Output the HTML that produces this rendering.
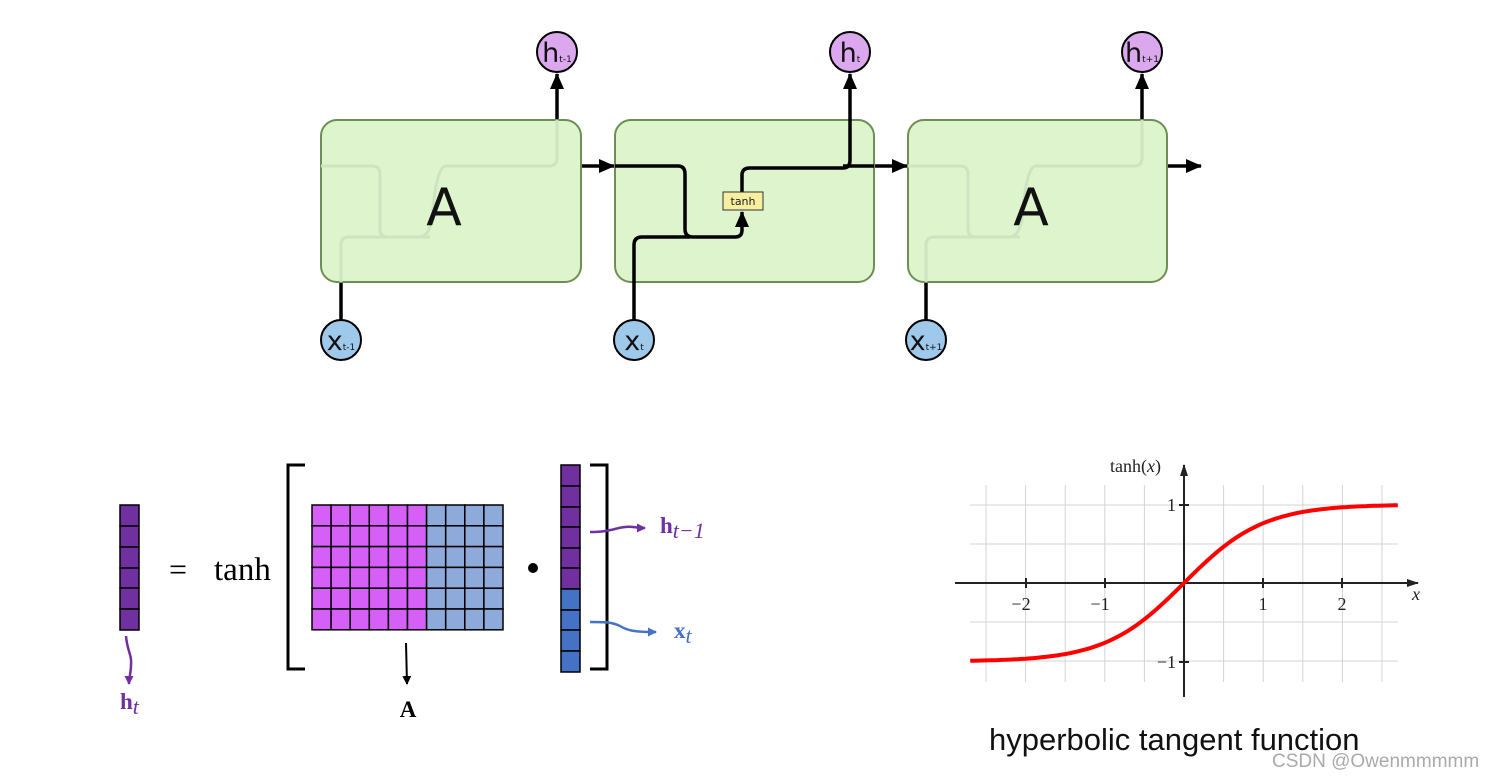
<!DOCTYPE html>
<html><head><meta charset="utf-8"><style>
html,body{margin:0;padding:0;background:#fff;width:1500px;height:776px;overflow:hidden}
svg{display:block}
</style></head><body>
<svg width="1500" height="776" viewBox="0 0 1500 776" xmlns="http://www.w3.org/2000/svg">
<defs>
<marker id="ah" markerWidth="16" markerHeight="16" refX="15" refY="8" orient="auto" markerUnits="userSpaceOnUse"><path d="M0,1 L16,8 L0,15 z" fill="#000"/></marker>
<marker id="ap" markerWidth="9" markerHeight="9" refX="8" refY="4.5" orient="auto" markerUnits="userSpaceOnUse"><path d="M0,0 L9,4.5 L0,9 z" fill="#7030a0"/></marker>
<marker id="ab" markerWidth="9" markerHeight="9" refX="8" refY="4.5" orient="auto" markerUnits="userSpaceOnUse"><path d="M0,0 L9,4.5 L0,9 z" fill="#4472c4"/></marker>
<marker id="ak" markerWidth="9" markerHeight="9" refX="8" refY="4.5" orient="auto" markerUnits="userSpaceOnUse"><path d="M0,0 L9,4.5 L0,9 z" fill="#000"/></marker>
<marker id="ag" markerWidth="12" markerHeight="10" refX="11" refY="5" orient="auto" markerUnits="userSpaceOnUse"><path d="M0,1 L12,5 L0,9 z" fill="#222"/></marker>
</defs>

<g stroke="#000" stroke-width="3.5" fill="none">
<line x1="341" y1="282" x2="341" y2="320"/>
<line x1="557" y1="120" x2="557" y2="74" marker-end="url(#ah)"/>
<line x1="581" y1="166" x2="614" y2="166" marker-end="url(#ah)"/>
<line x1="874" y1="166" x2="907" y2="166" marker-end="url(#ah)"/>
<line x1="1167" y1="166" x2="1201" y2="166" marker-end="url(#ah)"/>
<line x1="926" y1="282" x2="926" y2="320"/>
<line x1="1142" y1="120" x2="1142" y2="74" marker-end="url(#ah)"/>
</g>
<rect x="321" y="120" width="260" height="162" rx="16" fill="#ddf4cd" stroke="#6d8f55" stroke-width="2"/>
<rect x="615" y="120" width="259" height="162" rx="16" fill="#ddf4cd" stroke="#6d8f55" stroke-width="2"/>
<rect x="908" y="120" width="259" height="162" rx="16" fill="#ddf4cd" stroke="#6d8f55" stroke-width="2"/>
<g stroke="#cfe3c1" stroke-width="3" fill="none">
<path d="M321,166 H372 Q380,166 380,174 V229 Q380,237 388,237 H430"/>
<path d="M341,282 V245 Q341,237 349,237 H420 Q428,237 432,220 Q436,166 446,166 H549 Q557,166 557,158 V120"/>
<path d="M908,166 H960 Q968,166 968,174 V229 Q968,237 976,237 H1020"/>
<path d="M926,282 V245 Q926,237 934,237 H1010 Q1018,237 1022,220 Q1026,166 1036,166 H1134 Q1142,166 1142,158 V120"/>
</g>
<text x="444" y="225" font-family="DejaVu Sans, sans-serif" font-size="52" text-anchor="middle" fill="#111">A</text>
<text x="1031" y="225" font-family="DejaVu Sans, sans-serif" font-size="52" text-anchor="middle" fill="#111">A</text>
<g stroke="#000" stroke-width="3.5" fill="none">
<path d="M615,166 H678 Q685,166 685,174 V229 Q685,237 693,237 H735 Q742,237 742,230 V212" marker-end="url(#ah)"/>
<path d="M634,320 V245 Q634,237 642,237 H690"/>
<path d="M742,192 V175 Q742,168 750,168 H843 Q850,168 850,160 V74" marker-end="url(#ah)"/>
<line x1="843" y1="166" x2="874" y2="166"/>
</g>
<rect x="723" y="192" width="40" height="18" fill="#f7eea0" stroke="#333" stroke-width="1"/>
<text x="743" y="205" font-family="DejaVu Sans, sans-serif" font-size="11" text-anchor="middle" fill="#222">tanh</text>
<g stroke="#000" stroke-width="2">
<circle cx="557" cy="52" r="20" fill="#dba8ee"/>
<circle cx="850" cy="52" r="20" fill="#dba8ee"/>
<circle cx="1142" cy="52" r="20" fill="#dba8ee"/>
<circle cx="341" cy="340" r="20" fill="#9fc9ea"/>
<circle cx="634" cy="340" r="20" fill="#9fc9ea"/>
<circle cx="926" cy="340" r="20" fill="#9fc9ea"/>
</g>
<g font-family="DejaVu Sans, sans-serif" fill="#111" text-anchor="middle">
<text x="557" y="62" font-size="27">h<tspan font-size="9">t-1</tspan></text>
<text x="850" y="62" font-size="27">h<tspan font-size="9">t</tspan></text>
<text x="1142" y="62" font-size="27">h<tspan font-size="9">t+1</tspan></text>
<text x="341" y="350" font-size="27">x<tspan font-size="9">t-1</tspan></text>
<text x="634" y="350" font-size="27">x<tspan font-size="9">t</tspan></text>
<text x="926" y="350" font-size="27">x<tspan font-size="9">t+1</tspan></text>
</g>

<g stroke="#000" stroke-width="1.5" fill="#7030a0">
<rect x="120" y="505" width="19" height="21"/><rect x="120" y="526" width="19" height="21"/><rect x="120" y="547" width="19" height="21"/>
<rect x="120" y="568" width="19" height="20"/><rect x="120" y="588" width="19" height="21"/><rect x="120" y="609" width="19" height="21"/>
</g>
<g id="mat" stroke="#000" stroke-width="1.5"></g>
<g stroke="#000" stroke-width="1.5">
<g fill="#7030a0">
<rect x="561" y="465" width="19" height="21"/><rect x="561" y="486" width="19" height="21"/><rect x="561" y="507" width="19" height="20"/>
<rect x="561" y="527" width="19" height="21"/><rect x="561" y="548" width="19" height="20"/><rect x="561" y="568" width="19" height="21"/>
</g>
<g fill="#4472c4">
<rect x="561" y="589" width="19" height="21"/><rect x="561" y="610" width="19" height="20"/><rect x="561" y="630" width="19" height="21"/><rect x="561" y="651" width="19" height="21"/>
</g>
</g>
<text x="178" y="580" font-family="Liberation Serif, serif" font-size="32" text-anchor="middle">=</text>
<text x="214" y="580" font-family="Liberation Serif, serif" font-size="33">tanh</text>
<path d="M305,465 H288 V669 H305" stroke="#000" stroke-width="3" fill="none"/>
<path d="M590,465 H607 V669 H590" stroke="#000" stroke-width="3" fill="none"/>
<circle cx="533" cy="568" r="5" fill="#000"/>
<path d="M590,532 C610,532 615,528 625,527 C632,526 636,528 645,528" stroke="#7030a0" stroke-width="2.5" fill="none" marker-end="url(#ap)"/>
<path d="M590,622 C605,622 612,622 620,626 C628,631 636,632 656,632" stroke="#4472c4" stroke-width="2.5" fill="none" marker-end="url(#ab)"/>
<path d="M126,636 C127,650 132,655 131,665 C131,672 129,678 129,684" stroke="#7030a0" stroke-width="2.5" fill="none" marker-end="url(#ap)"/>
<line x1="406" y1="643" x2="407" y2="684" stroke="#000" stroke-width="2" marker-end="url(#ak)"/>
<text x="660" y="533" font-family="Liberation Serif, serif" font-size="23" font-weight="bold" fill="#7030a0">h<tspan font-style="italic" font-weight="normal" font-size="22" dy="5">t−1</tspan></text>
<text x="674" y="638" font-family="Liberation Serif, serif" font-size="23" font-weight="bold" fill="#4472c4">x<tspan font-style="italic" font-weight="normal" font-size="22" dy="5">t</tspan></text>
<text x="120" y="709" font-family="Liberation Serif, serif" font-size="23" font-weight="bold" fill="#7030a0">h<tspan font-style="italic" font-weight="normal" font-size="22" dy="5">t</tspan></text>
<text x="408" y="717" font-family="Liberation Serif, serif" font-size="23" font-weight="bold" text-anchor="middle">A</text>

<g id="grid" stroke="#d4d4d4" stroke-width="1"></g>
<g stroke="#222" stroke-width="2" fill="none">
<line x1="955" y1="583" x2="1418" y2="583" marker-end="url(#ag)"/>
<line x1="1184" y1="697" x2="1184" y2="465" marker-end="url(#ag)"/>
<line x1="1026" y1="578" x2="1026" y2="588"/><line x1="1105" y1="578" x2="1105" y2="588"/>
<line x1="1263" y1="578" x2="1263" y2="588"/><line x1="1342" y1="578" x2="1342" y2="588"/>
<line x1="1179" y1="505" x2="1189" y2="505"/><line x1="1179" y1="662" x2="1189" y2="662"/>
</g>
<path id="curve" d="" stroke="#f00" stroke-width="4" fill="none"/>
<g font-family="Liberation Serif, serif" font-size="18" fill="#222">
<text x="1021" y="610" text-anchor="middle">−2</text>
<text x="1100" y="610" text-anchor="middle">−1</text>
<text x="1263" y="610" text-anchor="middle">1</text>
<text x="1342" y="610" text-anchor="middle">2</text>
<text x="1176" y="511" text-anchor="end">1</text>
<text x="1176" y="668" text-anchor="end">−1</text>
<text x="1110" y="472">tanh(<tspan font-style="italic">x</tspan>)</text>
<text x="1412" y="600" font-style="italic">x</text>
</g>
<text x="989" y="750" font-family="Liberation Sans, sans-serif" font-size="31" fill="#111">hyperbolic tangent function</text>
<text x="1272" y="767" font-family="Liberation Sans, sans-serif" font-size="19" fill="#aaa">CSDN @Owenmmmmm</text>
</svg>
<script>
var ns="http://www.w3.org/2000/svg";
var m=document.getElementById('mat');
for(var r=0;r<6;r++)for(var c=0;c<10;c++){var e=document.createElementNS(ns,'rect');
e.setAttribute('x',312+c*19.1);e.setAttribute('y',505+r*20.8);e.setAttribute('width',19.1);e.setAttribute('height',20.8);
e.setAttribute('fill',c<6?'#d660f7':'#8eaadb');m.appendChild(e);}
var g=document.getElementById('grid');
for(var i=-5;i<=5;i++){var x=1184+i*39.6;var l=document.createElementNS(ns,'line');
l.setAttribute('x1',x);l.setAttribute('x2',x);l.setAttribute('y1',485);l.setAttribute('y2',682);g.appendChild(l);}
for(var j=-2;j<=2;j++){var y=583+j*39;var l=document.createElementNS(ns,'line');
l.setAttribute('x1',970);l.setAttribute('x2',1398);l.setAttribute('y1',y);l.setAttribute('y2',y);g.appendChild(l);}
var d='';for(var k=0;k<=108;k++){var t=-2.7+k*0.05;var px=1184+t*79.2;var py=583-Math.tanh(t)*78.5;d+=(k?'L':'M')+px.toFixed(1)+','+py.toFixed(1);}
document.getElementById('curve').setAttribute('d',d);
</script>
</body></html>
